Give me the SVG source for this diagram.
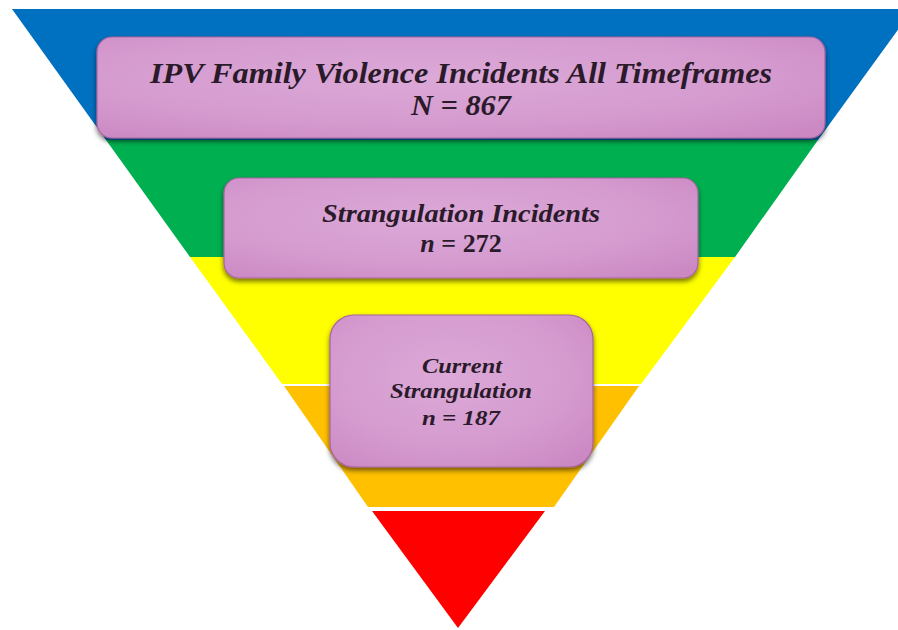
<svg xmlns="http://www.w3.org/2000/svg" width="898" height="630" viewBox="0 0 898 630">
  <defs>
    <radialGradient id="boxGrad" cx="0.45" cy="0.4" r="0.75">
      <stop offset="0" stop-color="#DCA9D8"/>
      <stop offset="0.6" stop-color="#D59BCF"/>
      <stop offset="1" stop-color="#CB88C3"/>
    </radialGradient>
    <filter id="shadow" x="-10%" y="-20%" width="120%" height="150%">
      <feDropShadow dx="0" dy="3" stdDeviation="2.5" flood-color="#000" flood-opacity="0.55"/>
    </filter>
    <style>
      .box { fill: url(#boxGrad); stroke: #A8649F; stroke-width: 1.2; filter: url(#shadow); }
      .lbl { font-family: "Liberation Serif", "Times New Roman", serif; font-style: italic; font-weight: bold; fill: #2A1A2A; text-anchor: middle; }
      .up { font-style: normal; }
    </style>
  </defs>
  <rect width="898" height="630" fill="#FFFFFF"/>
  <g id="pyramid">
    <polygon points="12,9 913,9 818,140 106,140" fill="#0070C0"/>
    <polygon points="106,140 818,140 735,257 190,257" fill="#00B050"/>
    <polygon points="190,257 735,257 641,384 282,384" fill="#FFFF00"/>
    <polygon points="284,386 639,386 554,507 368,507" fill="#FFC000"/>
    <polygon points="372,511 545,511 458,628" fill="#FF0000"/>
  </g>
  <g id="node-all">
    <rect class="box" x="97" y="37" width="728" height="101" rx="15"/>
    <text class="lbl" x="461" y="83" font-size="29" textLength="622" lengthAdjust="spacingAndGlyphs">IPV Family Violence Incidents All Timeframes</text>
    <text class="lbl" x="461" y="115" font-size="29" textLength="100" lengthAdjust="spacingAndGlyphs">N = 867</text>
  </g>
  <g id="node-strangulation">
    <rect class="box" x="224" y="178" width="474" height="100" rx="15"/>
    <text class="lbl" x="461" y="222" font-size="26" textLength="278" lengthAdjust="spacingAndGlyphs">Strangulation Incidents</text>
    <text class="lbl" x="461" y="252" font-size="26">n <tspan class="up">= 272</tspan></text>
  </g>
  <g id="node-current">
    <rect class="box" x="330" y="315" width="263" height="152" rx="24"/>
    <text class="lbl" x="462" y="373" font-size="21" textLength="80" lengthAdjust="spacingAndGlyphs">Current</text>
    <text class="lbl" x="461" y="398" font-size="21" textLength="142" lengthAdjust="spacingAndGlyphs">Strangulation</text>
    <text class="lbl" x="461" y="425" font-size="21" textLength="78" lengthAdjust="spacingAndGlyphs">n = 187</text>
  </g>
</svg>
